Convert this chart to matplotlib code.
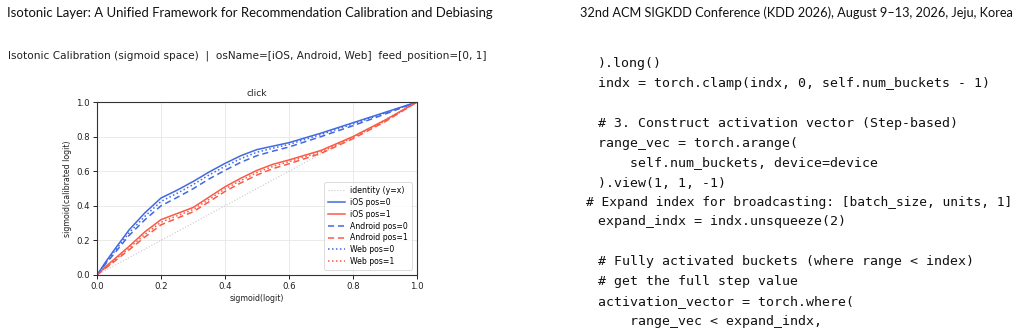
import matplotlib
matplotlib.use("Agg")
import matplotlib.pyplot as plt

# ---- data ----
x_pts = [0, 0.025, 0.05, 0.1, 0.15, 0.2, 0.25, 0.3, 0.35, 0.4, 0.45, 0.5, 0.55, 0.6, 0.7, 0.8, 0.9, 1.0]
ios_pos0 = [0, 0.07, 0.135, 0.26, 0.36, 0.445, 0.49, 0.54, 0.595, 0.645, 0.69, 0.725, 0.745, 0.765, 0.82, 0.88, 0.94, 1.0]
web_pos0 = [0, 0.065, 0.125, 0.243, 0.34, 0.425, 0.472, 0.522, 0.578, 0.628, 0.673, 0.71, 0.733, 0.755, 0.812, 0.873, 0.936, 1.0]
android_pos0 = [0, 0.06, 0.115, 0.228, 0.32, 0.4, 0.448, 0.498, 0.555, 0.605, 0.652, 0.69, 0.716, 0.74, 0.8, 0.863, 0.93, 1.0]
ios_pos1 = [0, 0.045, 0.085, 0.165, 0.25, 0.32, 0.355, 0.39, 0.45, 0.51, 0.56, 0.605, 0.64, 0.665, 0.72, 0.80, 0.895, 1.0]
web_pos1 = [0, 0.04, 0.078, 0.155, 0.235, 0.305, 0.342, 0.378, 0.437, 0.497, 0.547, 0.592, 0.628, 0.655, 0.712, 0.795, 0.89, 1.0]
android_pos1 = [0, 0.037, 0.072, 0.145, 0.22, 0.29, 0.328, 0.365, 0.423, 0.483, 0.533, 0.578, 0.615, 0.643, 0.703, 0.788, 0.886, 1.0]
ticks = [0.0, 0.2, 0.4, 0.6, 0.8, 1.0]

header_left = "Isotonic Layer: A Unified Framework for Recommendation Calibration and Debiasing"
header_right = "32nd ACM SIGKDD Conference (KDD 2026), August 9\u201313, 2026, Jeju, Korea"
suptitle = "Isotonic Calibration (sigmoid space)  |  osName=[iOS, Android, Web]  feed_position=[0, 1]"
code_lines = [
    (598, 64, ").long()"),
    (598, 84, "indx = torch.clamp(indx, 0, self.num_buckets - 1)"),
    (598, 123, "# 3. Construct activation vector (Step-based)"),
    (598, 143, "range_vec = torch.arange("),
    (630, 163, "self.num_buckets, device=device"),
    (598, 183, ").view(1, 1, -1)"),
    (586, 202.5, "# Expand index for broadcasting: [batch_size, units, 1]"),
    (598, 222, "expand_indx = indx.unsqueeze(2)"),
    (598, 261.5, "# Fully activated buckets (where range < index)"),
    (598, 281.5, "# get the full step value"),
    (598, 301.5, "activation_vector = torch.where("),
    (630, 321, "range_vec < expand_indx,"),
]

W, H = 1021, 334
fig = plt.figure(figsize=(W / 100, H / 100), dpi=100)
fig.patch.set_facecolor("white")

def fx(px):
    return px / W

def fy(py):
    return 1 - py / H

fig.text(fx(7), fy(13), header_left, family="Lato", fontsize=9.45, va="center", ha="left", color="#111111")
fig.text(fx(1013), fy(13), header_right, family="Lato", fontsize=9.15, va="center", ha="right", color="#111111")
fig.text(fx(8), fy(56), suptitle, family="DejaVu Sans", fontsize=7.55, va="center", ha="left", color="#222222")

for px, py, s in code_lines:
    fs = 9.3 if s.startswith("# Expand") else 9.5
    fig.text(fx(px), fy(py), s, family="DejaVu Sans Mono", fontsize=fs, va="center", ha="left", color="#111111")

ax = fig.add_axes([fx(97), fy(275), (417 - 97) / W, (275 - 102) / H])
blue = "#4169e1"
red = "#fa5a46"
ax.plot([0, 1], [0, 1], color="#c8c8c8", lw=0.8, ls=":", label="identity (y=x)")
ax.plot(x_pts, ios_pos0, color=blue, lw=1.1, ls="-", label="iOS pos=0")
ax.plot(x_pts, ios_pos1, color=red, lw=1.1, ls="-", label="iOS pos=1")
ax.plot(x_pts, android_pos0, color=blue, lw=1.1, ls=(0, (4, 2.5)), label="Android pos=0")
ax.plot(x_pts, android_pos1, color=red, lw=1.1, ls=(0, (4, 2.5)), label="Android pos=1")
ax.plot(x_pts, web_pos0, color=blue, lw=1.1, ls=(0, (1, 1.6)), label="Web pos=0")
ax.plot(x_pts, web_pos1, color=red, lw=1.1, ls=(0, (1, 1.6)), label="Web pos=1")

ax.set_xlim(0, 1)
ax.set_ylim(0, 1)
ax.set_xticks(ticks)
ax.set_yticks(ticks)
ax.set_xticklabels([f"{t:.1f}" for t in ticks])
ax.set_yticklabels([f"{t:.1f}" for t in ticks])
ax.tick_params(labelsize=6.2, length=3, width=0.7, pad=2, colors="#222222")
ax.grid(True, color="#e6e6e6", lw=0.6)
for sp in ax.spines.values():
    sp.set_linewidth(0.8)
    sp.set_color("#333333")
ax.set_title("click", fontsize=6.6, pad=4, color="#222222")
ax.set_xlabel("sigmoid(logit)", fontsize=5.7, labelpad=2, color="#222222")
ax.set_ylabel("sigmoid(calibrated logit)", fontsize=5.7, labelpad=3, color="#222222")
leg = ax.legend(loc="lower right", fontsize=5.6, frameon=True, handlelength=2.2,
                borderpad=0.5, labelspacing=0.36, handletextpad=0.6,
                bbox_to_anchor=(0.984, 0.03), borderaxespad=0)
leg.get_frame().set_linewidth(0.6)
leg.get_frame().set_edgecolor("#cccccc")

fig.savefig("out.png", dpi=100, facecolor="white")
